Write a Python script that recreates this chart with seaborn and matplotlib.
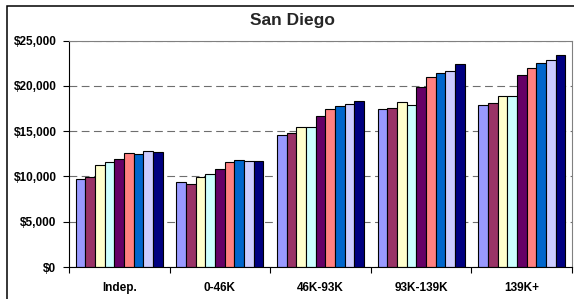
import numpy as np
import pandas as pd
import matplotlib
matplotlib.use('Agg')
import matplotlib.pyplot as plt
from matplotlib.patches import Rectangle
from matplotlib.ticker import MultipleLocator, FuncFormatter
import seaborn as sns

# DATA
groups = ['Indep.', '0-46K', '46K-93K', '93K-139K', '139K+']
series = ['S1', 'S2', 'S3', 'S4', 'S5', 'S6', 'S7', 'S8', 'S9']
colors = ['#9999FF', '#993366', '#FFFFCC', '#CCFFFF', '#660066',
          '#FF8080', '#0066CC', '#CCCCFF', '#000080']

indep = [9700, 9920, 11250, 11580, 11910, 12580, 12500, 12750, 12690]
k0_46 = [9330, 9180, 9880, 10210, 10870, 11610, 11760, 11730, 11730]
k46_93 = [14570, 14750, 15450, 15450, 16630, 17480, 17810, 18000, 18330]
k93_139 = [17440, 17510, 18250, 17880, 19910, 20940, 21460, 21650, 22380]
k139_up = [17920, 18140, 18880, 18880, 21160, 22010, 22570, 22860, 23450]
group_values = [indep, k0_46, k46_93, k93_139, k139_up]

rows = []
for g, vals in zip(groups, group_values):
    for s, v in zip(series, vals):
        rows.append({'group': g, 'series': s, 'value': v})
df = pd.DataFrame(rows)

# STYLE
sns.set_theme(style='white')
plt.rcParams['font.family'] = ['Liberation Sans', 'DejaVu Sans']

fig = plt.figure(figsize=(5.74, 2.99), dpi=100)
ax = fig.add_axes([69 / 574, 1 - 267 / 299, (572 - 69) / 574, (267 - 40.5) / 299])
ax.set_axisbelow(True)

sns.barplot(data=df, x='group', y='value', hue='series', order=groups,
            hue_order=series, palette=colors, saturation=1, width=0.865,
            edgecolor='black', linewidth=0.8, errorbar=None, legend=False, ax=ax)

ax.set_xlim(-0.5, 4.5)
ax.set_ylim(0, 25000)
ax.set_xlabel('')
ax.set_ylabel('')
ax.yaxis.set_major_locator(MultipleLocator(5000))
ax.yaxis.set_major_formatter(FuncFormatter(lambda v, _: f'${v:,.0f}'))
ax.grid(axis='y', color='#6e6e6e', linestyle=(0, (7, 4)), linewidth=0.8)

# category boundary ticks
ax.set_xticks(np.arange(-0.5, 5, 1), minor=True)
ax.tick_params(axis='x', which='major', bottom=False, length=0, pad=11)
ax.tick_params(axis='x', which='minor', bottom=True, length=4, width=0.8,
               color='black', direction='out')
ax.tick_params(axis='y', left=True, length=4, width=0.8, color='black',
               direction='out', pad=5)
for lbl in ax.get_xticklabels() + ax.get_yticklabels():
    lbl.set_fontsize(8.5)
    lbl.set_fontweight('bold')
    lbl.set_color('black')

for side in ['top', 'right']:
    ax.spines[side].set_color('#808080')
    ax.spines[side].set_linewidth(0.8)
for side in ['left', 'bottom']:
    ax.spines[side].set_color('black')
    ax.spines[side].set_linewidth(0.8)

fig.text(292 / 574, 1 - 21 / 299, 'San Diego', ha='center', va='center',
         fontsize=12.5, fontweight='bold')

# outer chart frame
fig.add_artist(Rectangle((7 / 574, -0.1), 1.2, 1 - 5.5 / 299 + 0.1,
                         transform=fig.transFigure, fill=False,
                         edgecolor='black', linewidth=1.1))

fig.savefig('out.png', dpi=100)
